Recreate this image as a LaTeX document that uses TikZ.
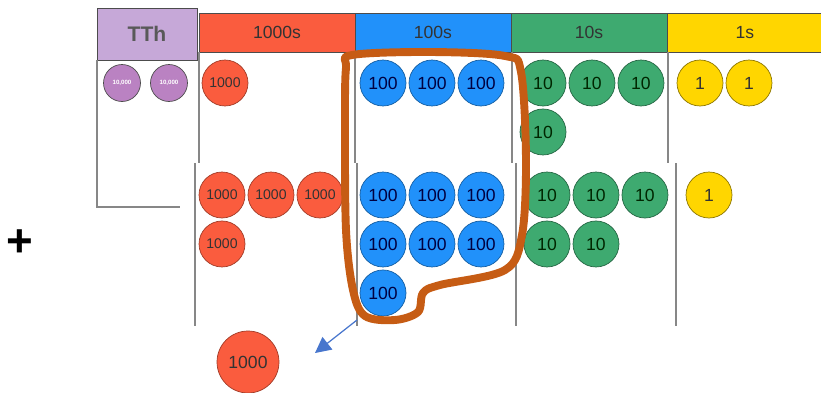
\documentclass[tikz,border=0pt]{standalone}
\usepackage{fontspec}
\setmainfont{Liberation Sans}
\usepackage{tikz}
\usetikzlibrary{shapes.geometric, arrows, arrows.meta}
\definecolor{thred}{RGB}{250,92,62}
\definecolor{hblue}{RGB}{33,145,250}
\definecolor{tgreen}{RGB}{62,170,112}
\definecolor{oyellow}{RGB}{255,214,0}
\definecolor{ttpurple}{RGB}{198,168,216}
\definecolor{ttcoin}{RGB}{186,130,194}
\definecolor{loopbrown}{RGB}{198,92,20}
\definecolor{arrowblue}{RGB}{72,118,205}
\definecolor{rulegray}{RGB}{135,135,135}
\tikzstyle{coin} = [circle, minimum size=0.92cm, inner sep=0pt, text centered, font=\fontsize{10}{10}\selectfont]
\tikzstyle{thousand} = [coin, draw=thred!65!black, fill=thred, text=black!80, font=\fontsize{8}{8}\selectfont]
\tikzstyle{hundred} = [coin, draw=hblue!65!black, fill=hblue, text=blue!25!black]
\tikzstyle{ten} = [coin, draw=tgreen!60!black, fill=tgreen, text=green!15!black]
\tikzstyle{unit} = [coin, draw=oyellow!55!black, fill=oyellow, text=black!80]
\tikzstyle{tenthousand} = [circle, minimum size=0.74cm, inner sep=0pt, draw=black!70, fill=ttcoin, text=white, font=\fontsize{3.5}{3.5}\selectfont\bfseries]
\tikzstyle{header} = [rectangle, minimum width=3.12cm, minimum height=0.78cm, draw=black!70, text=black!80, font=\fontsize{10}{10}\selectfont]
\tikzstyle{divider} = [draw=rulegray, line width=1.1pt]
\tikzstyle{arrow} = [draw=arrowblue, line width=0.7pt, -{Triangle[length=9pt,width=9pt]}]
\tikzstyle{regroup} = [draw=loopbrown, line width=4.5pt, line join=round]

\begin{document}
\begin{tikzpicture}[x=0.02cm, y=-0.02cm, node distance=0.98cm]
	\useasboundingbox (0,0) rectangle (821,392);

	% place value headers
	\node(tth) [rectangle, minimum width=2cm, minimum height=1.04cm, draw=black!70, fill=ttpurple, text=black!65, font=\fontsize{12}{12}\selectfont\bfseries] at (147,34) {TTh};
	\node(h1000) [header, fill=thred] at (277,32.5) {1000s};
	\node(h100) [header, fill=hblue, right of=h1000, node distance=3.12cm] {100s};
	\node(h10) [header, fill=tgreen, right of=h100, node distance=3.12cm] {10s};
	\node(h1) [header, fill=oyellow, right of=h10, node distance=3.12cm] {1s};

	% column lines
	\draw[divider] (97,60) -- (97,207) -- (180,207);
	\draw[divider] (199,52) -- (199,163);
	\draw[divider] (355,52) -- (355,163);
	\draw[divider] (512,52) -- (512,163);
	\draw[divider] (668,52) -- (668,163);
	\draw[divider] (195,163) -- (195,326);
	\draw[divider] (357,163) -- (357,326);
	\draw[divider] (516,163) -- (516,326);
	\draw[divider] (676,163) -- (676,326);

	% first number
	\node(tta) [tenthousand] at (122,83) {10,000};
	\node(ttb) [tenthousand, right of=tta, node distance=0.94cm] {10,000};
	\node(tha) [thousand] at (225,83) {1000};
	\node(ha) [hundred] at (383,83) {100};
	\node(hb) [hundred, right of=ha] {100};
	\node(hc) [hundred, right of=hb] {100};
	\node(ta) [ten] at (543,83) {10};
	\node(tb) [ten, right of=ta] {10};
	\node(tc) [ten, right of=tb] {10};
	\node(td) [ten, below of=ta] {10};
	\node(oa) [unit] at (700,83) {1};
	\node(ob) [unit, right of=oa] {1};

	% second number
	\node(thb) [thousand] at (222,195) {1000};
	\node(thc) [thousand, right of=thb] {1000};
	\node(thd) [thousand, right of=thc] {1000};
	\node(the) [thousand, below of=thb] {1000};
	\node(hd) [hundred] at (383,195) {100};
	\node(he) [hundred, right of=hd] {100};
	\node(hf) [hundred, right of=he] {100};
	\node(hg) [hundred, below of=hd] {100};
	\node(hh) [hundred, right of=hg] {100};
	\node(hi) [hundred, right of=hh] {100};
	\node(hj) [hundred, below of=hg] {100};
	\node(te) [ten] at (547,195) {10};
	\node(tf) [ten, right of=te] {10};
	\node(tg) [ten, right of=tf] {10};
	\node(th) [ten, below of=te] {10};
	\node(ti) [ten, right of=th] {10};
	\node(oc) [unit] at (709,195) {1};

	\node(plus) [font=\fontsize{26}{26}\selectfont\bfseries] at (20,243) {+};

	% ten hundreds make a thousand
	\draw[regroup] plot[smooth cycle, tension=0.55] coordinates {(352,55) (430,52) (505,56) (521,72) (526,160) (522,235) (505,270) (440,285) (423,293) (418,312) (395,320) (365,316) (353,290) (346,230) (345,120) (346,68)};
	\node(newthousand) [thousand, minimum size=1.24cm, font=\fontsize{10}{10}\selectfont] at (248,362) {1000};
	\coordinate (trade) at (357,320);
	\coordinate (tip) at (315,353);
	\draw[arrow] (trade) -- (tip);
\end{tikzpicture}
\end{document}
